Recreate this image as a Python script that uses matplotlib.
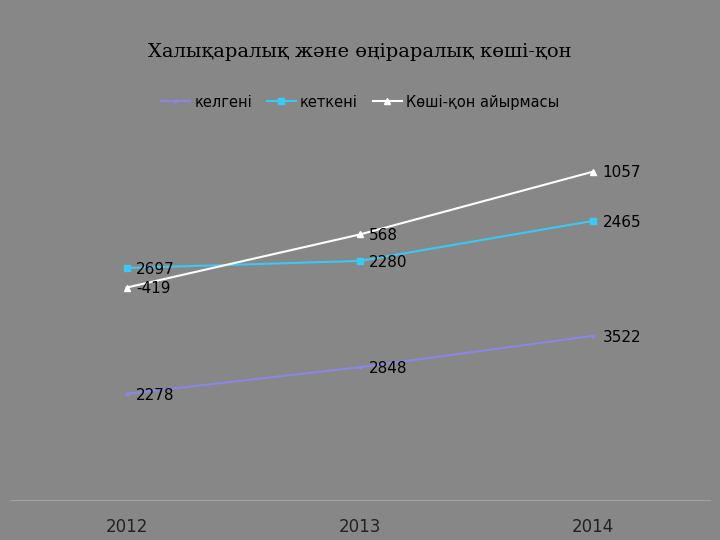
import numpy as np
import matplotlib
matplotlib.use("Agg")
import matplotlib.pyplot as plt

years = ["2012", "2013", "2014"]
kelgeni = [2278, 2848, 3522]
ketkeni = [2697, 2280, 2465]
airma = [-419, 568, 1057]

# stacked line chart
s1 = np.array(kelgeni)
s2 = s1 + np.array(ketkeni)
s3 = s2 + np.array(airma)

bg = "#878787"
fig = plt.figure(figsize=(7.2, 5.4), dpi=100, facecolor=bg)
ax = fig.add_axes([10 / 720, 40 / 540, 700 / 720, 373 / 540], facecolor=bg)

x = np.arange(3) + 0.5
ax.plot(x, s1, color="#8a86e6", lw=1.5, marker="o", ms=2, label="келгені")
ax.plot(x, s2, color="#3cc8f5", lw=1.5, marker="s", ms=5, label="кеткені")
ax.plot(x, s3, color="white", lw=1.5, marker="^", ms=5, label="Көші-қон айырмасы")

for xs, ys, vals in [(x, s1, kelgeni), (x, s2, ketkeni), (x, s3, airma)]:
    for xi, yi, v in zip(xs, ys, vals):
        ax.text(xi + 0.04, yi - 30, str(v), ha="left", va="center", fontsize=11, color="black")

ax.set_xlim(0, 3)
ax.set_ylim(0, 8000)
ax.set_xticks(x)
ax.set_xticklabels(years, fontsize=12, color="#222222")
ax.tick_params(length=0, pad=13)
ax.set_yticks([])
for s in ["top", "right", "left"]:
    ax.spines[s].set_visible(False)
ax.spines["bottom"].set_color("#a0a0a0")

fig.text(0.5, 1 - 52 / 540, "Халықаралық және өңіраралық көші-қон",
         ha="center", va="center", fontsize=14, family="DejaVu Serif", color="black")
fig.legend(loc="center", bbox_to_anchor=(0.5, 1 - 102 / 540), ncol=3, frameon=False,
           fontsize=10.5, handlelength=2, columnspacing=1.0, handletextpad=0.3)

fig.savefig("out.png", dpi=100, facecolor=bg)
